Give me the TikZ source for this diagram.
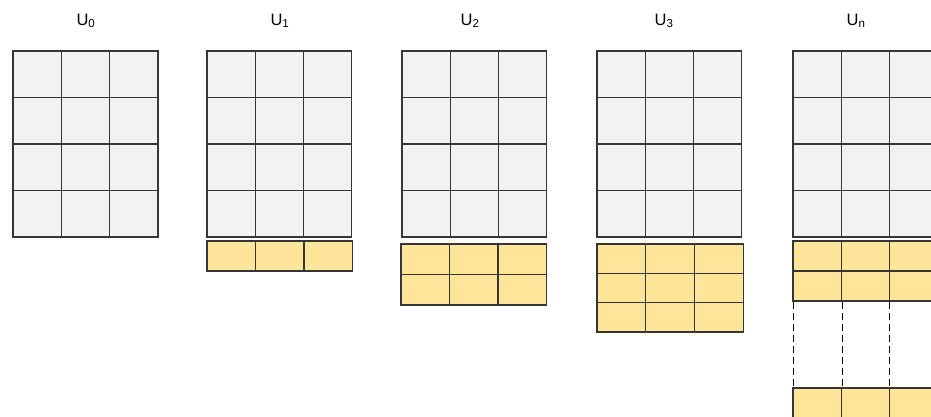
\documentclass[tikz,border=0pt]{standalone}
\usepackage{fontspec}
\setmainfont{Liberation Sans}
\definecolor{cellgray}{HTML}{F2F2F2}
\definecolor{cellyellow}{HTML}{FFE599}
\definecolor{edgegray}{HTML}{363636}
% #1 x0, #2 y0, #3 cols, #4 rows, #5 cell width, #6 row height, #7 style
\newcommand\blk[7]{%
  \draw[#7] (#1,#2) rectangle ({#1+#3*#5},{#2+#4*#6});
  \foreach \i in {1,...,#3}{\ifnum\i<#3\relax
    \draw[#7,fill=none] ({#1+\i*#5},#2) -- ({#1+\i*#5},{#2+#4*#6});\fi}
  \foreach \j in {1,...,#4}{\ifnum\j<#4\relax
    \draw[#7,fill=none] (#1,{#2+\j*#6}) -- ({#1+#3*#5},{#2+\j*#6});\fi}}
\begin{document}
\begin{tikzpicture}[x=1pt,y=-1pt,
  gcell/.style={fill=cellgray,draw=edgegray,line width=1.2pt},
  ycell/.style={fill=cellyellow,draw=edgegray,line width=1.2pt},
  lbl/.style={font=\fontsize{16.5}{18}\selectfont,inner sep=0pt},
  dash line/.style={draw=black,line width=1pt,dash pattern=on 7pt off 4pt}]
\useasboundingbox (0,0) rectangle (931,417);
% labels
\node[lbl] (l0) at (86,21) {U\textsubscript{0}};
\node[lbl] (l1) at (280,21) {U\textsubscript{1}};
\node[lbl] (l2) at (470,21) {U\textsubscript{2}};
\node[lbl] (l3) at (664,21) {U\textsubscript{3}};
\node[lbl] (ln) at (856,21) {U\textsubscript{n}};
% gray grids
\blk{13}{51}{3}{4}{48.33}{46.5}{gcell}
\blk{207}{51}{3}{4}{48.17}{46.5}{gcell}
\blk{402}{51}{3}{4}{48.17}{46.5}{gcell}
\blk{597}{51}{3}{4}{48.17}{46.5}{gcell}
\blk{793}{51}{3}{4}{48.2}{46.5}{gcell}
% yellow blocks
\blk{207}{241}{3}{1}{48.5}{30}{ycell}
\blk{401}{244}{3}{2}{48.5}{30.5}{ycell}
\blk{597}{244}{3}{3}{48.7}{29.3}{ycell}
\blk{793}{241}{3}{2}{48.3}{30}{ycell}
\blk{793}{388}{3}{1}{48.3}{30}{ycell}
% dashed continuation
\coordinate (d1a) at (793.5,302); \coordinate (d1b) at (793.5,388);
\coordinate (d2a) at (842,302); \coordinate (d2b) at (842,388);
\coordinate (d3a) at (889.5,302); \coordinate (d3b) at (889.5,388);
\draw[dash line] (d1a) -- (d1b);
\draw[dash line] (d2a) -- (d2b);
\draw[dash line] (d3a) -- (d3b);
\end{tikzpicture}
\end{document}
